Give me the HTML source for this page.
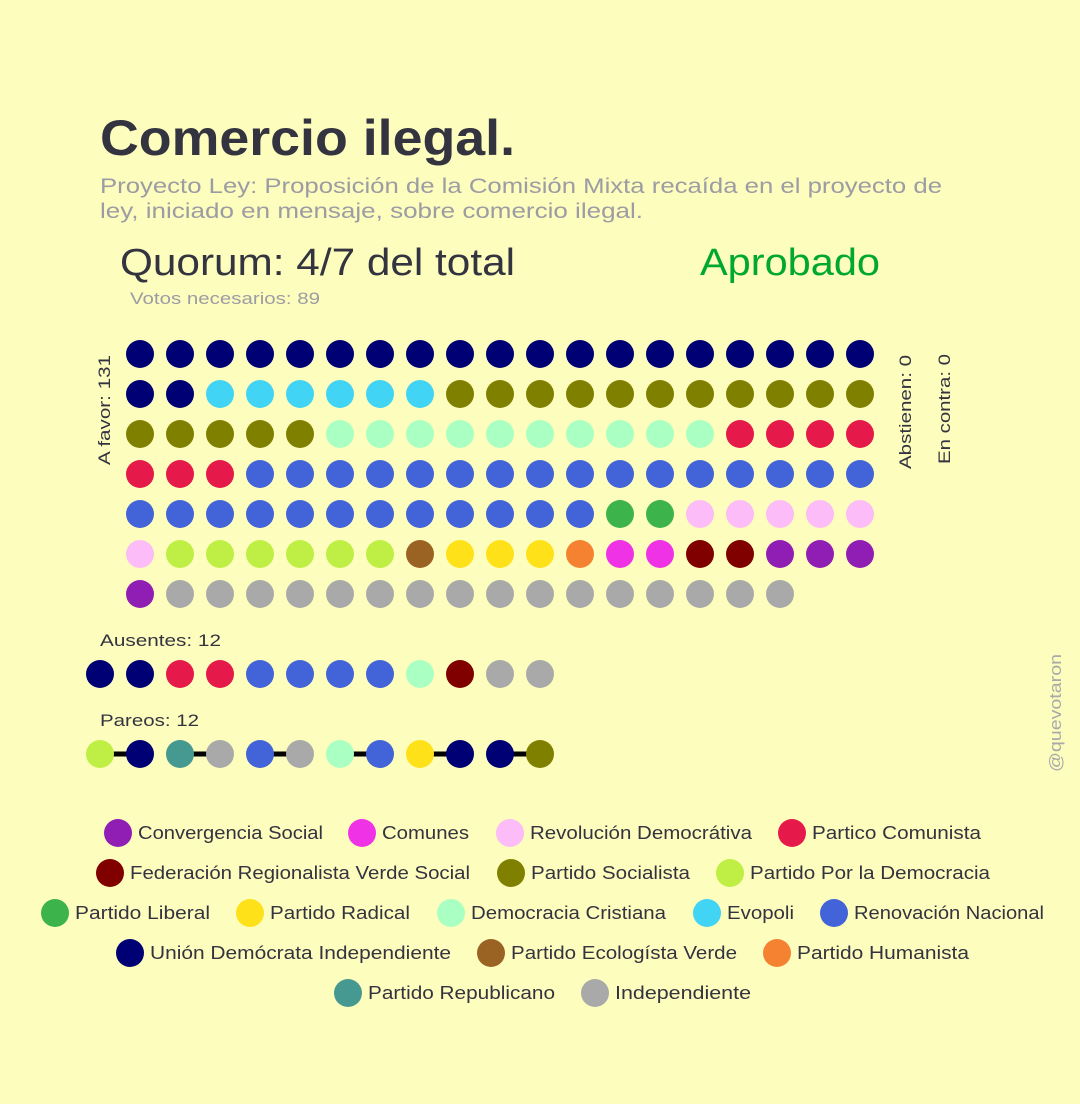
<!DOCTYPE html>
<html><head><meta charset="utf-8"><style>
html,body{margin:0;padding:0;background:#fdfdbd;}
svg{display:block;font-family:"Liberation Sans",sans-serif;}
</style></head><body>
<svg id="c" width="1080" height="1104" viewBox="0 0 1080 1104">
<rect width="1080" height="1104" fill="#fdfdbd"/>
<text x="100" y="155" font-size="50" font-weight="bold" fill="#343340" textLength="415" lengthAdjust="spacingAndGlyphs">Comercio ilegal.</text>
<text x="100" y="193" font-size="21" fill="#9c9ca4" textLength="842" lengthAdjust="spacingAndGlyphs">Proyecto Ley: Proposición de la Comisión Mixta recaída en el proyecto de</text>
<text x="100" y="218" font-size="21" fill="#9c9ca4" textLength="543" lengthAdjust="spacingAndGlyphs">ley, iniciado en mensaje, sobre comercio ilegal.</text>
<text x="120" y="275" font-size="38" fill="#343340" textLength="395" lengthAdjust="spacingAndGlyphs">Quorum: 4/7 del total</text>
<text x="700" y="275" font-size="38" fill="#00a82d" textLength="180" lengthAdjust="spacingAndGlyphs">Aprobado</text>
<text x="130" y="304" font-size="17" fill="#9c9ca4" textLength="190" lengthAdjust="spacingAndGlyphs">Votos necesarios: 89</text>
<text transform="translate(110,465) rotate(-90)" font-size="17" fill="#343340" textLength="110" lengthAdjust="spacingAndGlyphs">A favor: 131</text>
<text transform="translate(911,469) rotate(-90)" font-size="17" fill="#343340" textLength="114" lengthAdjust="spacingAndGlyphs">Abstienen: 0</text>
<text transform="translate(950,464) rotate(-90)" font-size="17" fill="#343340" textLength="110" lengthAdjust="spacingAndGlyphs">En contra: 0</text>
<text transform="translate(1061,772) rotate(-90)" font-size="17" fill="#a9a9a9" textLength="118" lengthAdjust="spacingAndGlyphs">@quevotaron</text>
<text x="100" y="646" font-size="17" fill="#343340" textLength="121" lengthAdjust="spacingAndGlyphs">Ausentes: 12</text>
<text x="100" y="726" font-size="17" fill="#343340" textLength="99" lengthAdjust="spacingAndGlyphs">Pareos: 12</text>
<g id="dots"></g>
<g id="legend"></g>
</svg>
<script>
const colors={CS:"#911eb4",COM:"#f032e6",RD:"#fcbcf8",PC:"#e6194b",FRVS:"#800000",PS:"#808000",PPD:"#bfef45",PL:"#3cb44b",PR:"#ffe119",DC:"#aaffc3",EVO:"#42d4f4",RN:"#4363d8",UDI:"#000075",PEV:"#9a6324",PH:"#f58231",REP:"#469990",IND:"#a9a9a9"};
const favorRows=[
 ["UDI",19],
 ["UDI",2,"EVO",6,"PS",11],
 ["PS",5,"DC",10,"PC",4],
 ["PC",3,"RN",16],
 ["RN",12,"PL",2,"RD",5],
 ["RD",1,"PPD",6,"PEV",1,"PR",3,"PH",1,"COM",2,"FRVS",2,"CS",3],
 ["CS",1,"IND",16]
];
const absent=["UDI","UDI","PC","PC","RN","RN","RN","RN","DC","FRVS","IND","IND"];
const pairs=["PPD","UDI","REP","IND","RN","IND","DC","RN","PR","UDI","UDI","PS"];
const legendNames=[
 [["CS","Convergencia Social"],["COM","Comunes"],["RD","Revolución Democrátiva"],["PC","Partico Comunista"]],
 [["FRVS","Federación Regionalista Verde Social"],["PS","Partido Socialista"],["PPD","Partido Por la Democracia"]],
 [["PL","Partido Liberal"],["PR","Partido Radical"],["DC","Democracia Cristiana"],["EVO","Evopoli"],["RN","Renovación Nacional"]],
 [["UDI","Unión Demócrata Independiente"],["PEV","Partido Ecologísta Verde"],["PH","Partido Humanista"]],
 [["REP","Partido Republicano"],["IND","Independiente"]]
];
const legendX=[[118,362,510,792],[110,511,730],[55,250,451,707,834],[130,491,777],[348,595]];
const legendW=[[185,87,222,169],[340,159,240],[135,140,195,67,190],[301,226,172],[187,136]];
const NS="http://www.w3.org/2000/svg";
const dots=document.getElementById('dots');
function circ(parent,x,y,r,p,name){
 const c=document.createElementNS(NS,'circle');
 c.setAttribute('cx',x);c.setAttribute('cy',y);c.setAttribute('r',r);c.setAttribute('fill',colors[p]);
 
 
 parent.appendChild(c);
}
favorRows.forEach((row,ri)=>{
 let ci=0;
 for(let k=0;k<row.length;k+=2){
  for(let n=0;n<row[k+1];n++){circ(dots,140+ci*40,354+ri*40,14,row[k],'favor-dot-'+row[k].toLowerCase());ci++;}
 }
});
absent.forEach((p,i)=>circ(dots,100+i*40,674,14,p,'absent-dot-'+p.toLowerCase()));
for(let i=0;i<pairs.length;i+=2){
 const l=document.createElementNS(NS,'line');
 l.setAttribute('x1',100+i*40);l.setAttribute('x2',140+i*40);l.setAttribute('y1',754);l.setAttribute('y2',754);
 l.setAttribute('stroke','#000');l.setAttribute('stroke-width','5');
 
 
 dots.appendChild(l);
}
pairs.forEach((p,i)=>circ(dots,100+i*40,754,14,p,'pair-dot-'+p.toLowerCase()));
const leg=document.getElementById('legend');
legendNames.forEach((row,ri)=>{
 row.forEach((e,ei)=>{
  const x=legendX[ri][ei],y=833+ri*40;
  circ(leg,x,y,14,e[0],'legend-swatch-'+e[0].toLowerCase());
  const t=document.createElementNS(NS,'text');
  t.setAttribute('x',x+20);t.setAttribute('y',y+6);t.setAttribute('font-size','18');t.setAttribute('fill','#343340');
  t.setAttribute('textLength',legendW[ri][ei]);t.setAttribute('lengthAdjust','spacingAndGlyphs');
  t.textContent=e[1];
  
  
  leg.appendChild(t);
 });
});
</script>
</body></html>
